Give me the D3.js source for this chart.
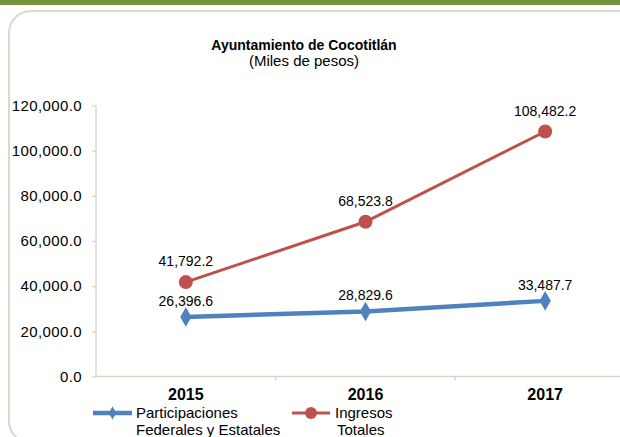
<!DOCTYPE html>
<html>
<head>
<meta charset="utf-8">
<script src="https://cdn.jsdelivr.net/npm/d3@7"></script>
<style>
  body { margin: 0; background: #fff; }
  svg { display: block; font-family: "Liberation Sans", Arial, sans-serif; }
</style>
</head>
<body>
<svg id="chart" width="620" height="437"></svg>
<script>
// data
var years = ["2015", "2016", "2017"];
var participaciones = [26396.6, 28829.6, 33487.7];
var ingresos = [41792.2, 68523.8, 108482.2];
var yTicks = [0, 20000, 40000, 60000, 80000, 100000, 120000];

var svg = d3.select("#chart");

// green band + rounded frame
svg.append("rect").attr("x", 0).attr("y", 0).attr("width", 620).attr("height", 5)
    .attr("fill", "#76923c");
svg.append("rect").attr("x", 9).attr("y", 11).attr("width", 640).attr("height", 432)
    .attr("rx", 22).attr("fill", "none").attr("stroke", "#d9d9cc").attr("stroke-width", 2);

// titles
svg.append("text").attr("x", 304).attr("y", 50).attr("text-anchor", "middle")
    .style("font-size", "14px").style("font-weight", "bold").text("Ayuntamiento de Cocotitlán");
svg.append("text").attr("x", 304).attr("y", 66).attr("text-anchor", "middle")
    .style("font-size", "15px").text("(Miles de pesos)");

// scales
var x = d3.scaleBand().domain(years).range([96, 635]).padding(0);
var y = d3.scaleLinear().domain([0, 120000]).range([376.5, 105.5]);
var fmt = d3.format(",.1f");

// y axis
var yAxis = svg.append("g").attr("transform", "translate(96,0)")
    .call(d3.axisLeft(y).tickValues(yTicks).tickSize(4).tickPadding(10).tickFormat(fmt));
yAxis.selectAll("path, line").attr("stroke", "#d6d6c6").attr("stroke-width", 1.3);
yAxis.select(".domain").attr("d", "M0," + y(120000) + "V" + y(0));
yAxis.selectAll("text").style("font-size", "15px").style("font-family", "Liberation Sans, Arial")
    .style("letter-spacing", "0.4px").attr("fill", "#000");

// x axis
var xAxis = svg.append("g").attr("transform", "translate(0," + y(0) + ")");
xAxis.append("line").attr("x1", 96).attr("x2", 620).attr("stroke", "#d6d6c6").attr("stroke-width", 1.5);
xAxis.selectAll(".tk").data(years).enter().append("line")
    .attr("x1", function(d) { return x(d) + x.bandwidth(); })
    .attr("x2", function(d) { return x(d) + x.bandwidth(); })
    .attr("y1", 0).attr("y2", 4).attr("stroke", "#d6d6c6").attr("stroke-width", 1.3);
xAxis.selectAll(".yr").data(years).enter().append("text")
    .attr("x", function(d) { return x(d) + x.bandwidth() / 2; })
    .attr("y", 23).attr("text-anchor", "middle")
    .style("font-size", "16px").style("font-weight", "bold").text(function(d) { return d; });

function cx(i) { return x(years[i]) + x.bandwidth() / 2; }

var line = d3.line().x(function(d, i) { return cx(i); }).y(function(d) { return y(d); });

// red series
svg.append("path").datum(ingresos).attr("d", line).attr("fill", "none")
    .attr("stroke", "#c0504d").attr("stroke-width", 3);
svg.selectAll(".rp").data(ingresos).enter().append("circle")
    .attr("cx", function(d, i) { return cx(i); }).attr("cy", function(d) { return y(d); })
    .attr("r", 7).attr("fill", "#c0504d");
svg.selectAll(".rl").data(ingresos).enter().append("text")
    .attr("x", function(d, i) { return cx(i); }).attr("y", function(d) { return y(d) - 16; })
    .attr("text-anchor", "middle").style("font-size", "14px").text(fmt);

// blue series
var diamond = d3.symbol().type(d3.symbolDiamond).size(110);
svg.append("path").datum(participaciones).attr("d", line).attr("fill", "none")
    .attr("stroke", "#4f81bd").attr("stroke-width", 4.5);
svg.selectAll(".bp").data(participaciones).enter().append("path")
    .attr("d", diamond)
    .attr("transform", function(d, i) { return "translate(" + cx(i) + "," + y(d) + ")"; })
    .attr("fill", "#4f81bd");
svg.selectAll(".bl").data(participaciones).enter().append("text")
    .attr("x", function(d, i) { return cx(i); }).attr("y", function(d) { return y(d) - 11; })
    .attr("text-anchor", "middle").style("font-size", "14px").text(fmt);

// legend
var lg = svg.append("g");
lg.append("line").attr("x1", 93).attr("x2", 132).attr("y1", 413).attr("y2", 413)
    .attr("stroke", "#4f81bd").attr("stroke-width", 4.5);
lg.append("path").attr("d", d3.symbol().type(d3.symbolDiamond).size(50))
    .attr("transform", "translate(112.5,413)").attr("fill", "#4f81bd");
lg.append("text").attr("x", 136).attr("y", 418).style("font-size", "15px").text("Participaciones");
lg.append("text").attr("x", 136).attr("y", 435).style("font-size", "15px").text("Federales y Estatales");

lg.append("line").attr("x1", 292).attr("x2", 330).attr("y1", 413).attr("y2", 413)
    .attr("stroke", "#c0504d").attr("stroke-width", 3);
lg.append("circle").attr("cx", 311).attr("cy", 413).attr("r", 6).attr("fill", "#c0504d");
lg.append("text").attr("x", 335).attr("y", 418).style("font-size", "15px").text("Ingresos");
lg.append("text").attr("x", 337).attr("y", 435).style("font-size", "15px").text("Totales");
</script>
</body>
</html>
